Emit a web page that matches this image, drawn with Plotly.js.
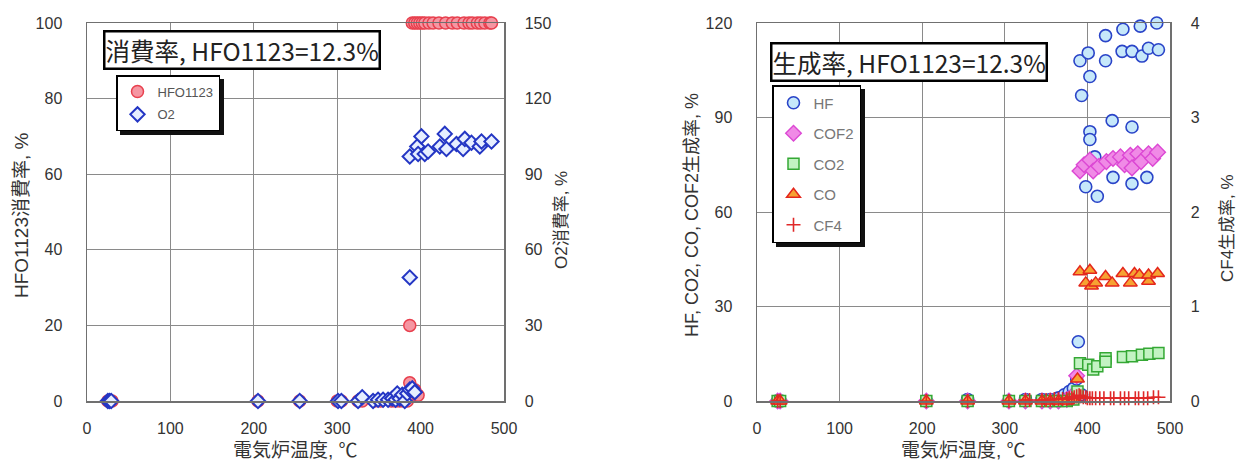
<!DOCTYPE html>
<html>
<head>
<meta charset="utf-8">
<script src="https://cdn.plot.ly/plotly-3.0.1.min.js"></script>
<style>html,body{margin:0;padding:0;background:#fff;}#chart{width:1240px;height:464px;}</style>
</head>
<body>
<div id="chart"></div>
<script>
// ---- Left chart: consumption rate ----
var hfoX = [25, 28, 30, 205, 255, 300, 305, 325, 330, 345, 352, 365, 370, 375, 380, 384, 387, 387, 393, 397,
            390, 393, 396, 399, 402, 405, 410, 415, 422, 430, 438, 444, 452, 458, 462, 468, 472, 477, 483, 485];
var hfoY = [0, 0, 0, 0, 0, 0, 0, 0, 0, 0, 0, 0, 0, 0, 0, 0, 4.8, 20, 3, 1.5,
            100, 100, 100, 100, 100, 100, 100, 100, 100, 100, 100, 100, 100, 100, 100, 100, 100, 100, 100, 100];
var o2X = [25, 27, 29, 205, 255, 301, 305, 325, 330, 343, 349, 355, 361, 366, 370, 372, 375, 378, 381, 384, 387, 390, 393,
           387, 387, 396, 401, 397, 405, 409, 423, 429, 431, 443, 451, 453, 461, 471, 473, 485];
var o2Y = [0, 0, 0, 0, 0, 0, 0, 0, 1.5, 0, 0.5, 0.5, 0.5, 1, 0.5, 3, 1, 2.5, 0, 3, 4.5, 5, 3.5,
           49, 97, 101, 105, 98, 98, 99, 101, 106, 100, 102, 100, 104, 102.5, 101, 103, 103];

// ---- Right chart: formation rate ----
var hfX = [25, 28, 205, 255, 305, 325, 345, 355, 365, 372, 378, 383, 387, 389, 393,
           391, 401, 403, 393, 422, 422, 443, 442, 454, 464, 466, 474, 484, 486,
           403, 403, 409, 430, 454, 398, 412, 431, 454, 472];
var hfY = [0, 0, 0, 0.5, 0, 0.5, 0.5, 0.5, 1, 2, 3, 4, 7, 18.8, 2,
           108, 110.5, 103, 97, 116, 108, 118, 111, 111, 119, 109.5, 112, 120, 111.5,
           85.5, 83, 77.5, 89, 87, 68, 65, 71, 69, 71];
var cof2X = [25, 28, 205, 255, 305, 325, 345, 355, 365, 375, 383, 387,
             391, 396, 403, 407, 414, 423, 431, 440, 445, 452, 454, 461, 465, 474, 479, 485];
var cof2Y = [0, 0, 0, 0, 0, 0, 0, 0, 0, 0.5, 2, 8,
             73, 75, 76.5, 73, 74.5, 76, 77, 77.5, 75, 78, 74, 78.5, 76, 78.5, 77, 79];
var co2X = [25, 28, 205, 255, 305, 325, 345, 355, 365, 375, 383, 388,
            391, 401, 407, 412, 422, 422, 443, 454, 466, 475, 486];
var co2Y = [0, 0, 0, 0, 0, 0, 0, 0, 0, 0, 0.5, 3,
            12, 11.5, 10, 11, 13.6, 12.5, 14, 14.2, 14.7, 15, 15.2];
var coX = [25, 28, 205, 255, 305, 325, 345, 355, 365, 375, 383, 388,
           391, 403, 398, 405, 410, 422, 430, 443, 452, 457, 463, 474, 474, 485];
var coY = [0, 0, 0, 0, 0, 0, 0, 0, 0, 0, 0.5, 7,
           41, 41.5, 37.5, 36.5, 37.5, 39.5, 37.5, 40.5, 37.5, 40.5, 40, 38, 40, 40.5];
var cf4X = [25, 28, 205, 255, 305, 325, 330, 345, 350, 355, 360, 365, 370, 375, 378, 381, 384, 387, 390, 392, 395, 398,
            400, 403, 406, 410, 415, 420, 428, 432, 440, 445, 450, 458, 462, 468, 473, 480, 486];
var cf4Y = [0, 0, 0, 0, 0, 0.01, 0.01, 0.01, 0.01, 0.01, 0.02, 0.02, 0.02, 0.02, 0.03, 0.03, 0.04, 0.05, 0.06, 0.05, 0.04, 0.04,
            0.03, 0.03, 0.03, 0.03, 0.03, 0.03, 0.03, 0.03, 0.03, 0.03, 0.03, 0.03, 0.03, 0.03, 0.03, 0.04, 0.04];

var leftYTicks = [0, 20, 40, 60, 80, 100];
var leftY2Ticks = [0, 30, 60, 90, 120, 150];
var rightYTicks = [0, 30, 60, 90, 120];
var rightY2Ticks = [0, 1, 2, 3, 4];
var xTicks = [0, 100, 200, 300, 400, 500];

var W = 1240, H = 464;
var FONT = 'Liberation Sans, Arial, Noto Sans CJK JP, sans-serif';
var CJK = 'Noto Sans CJK JP, sans-serif';

function sc(x, y, name, xa, ya, marker, legend, group) {
  return {type: 'scatter', mode: 'markers', x: x, y: y, name: name, xaxis: xa, yaxis: ya,
          marker: marker, legend: legend, legendgroup: group, cliponaxis: false, showlegend: true};
}

var data = [
  sc(hfoX, hfoY, 'HFO1123', 'x', 'y', {symbol: 'circle', size: 12, color: '#f596a2', line: {color: '#e8404e', width: 1.5}}, 'legend', 'a'),
  sc(o2X, o2Y, 'O2', 'x', 'y2', {symbol: 'diamond', size: 11, color: '#e6eeff', line: {color: '#2436c4', width: 2}}, 'legend', 'b'),
  sc(hfX, hfY, 'HF', 'x2', 'y3', {symbol: 'circle', size: 12, color: '#c6e8fa', line: {color: '#2a44c8', width: 1.6}}, 'legend2', 'c'),
  sc(cof2X, cof2Y, 'COF2', 'x2', 'y3', {symbol: 'diamond', size: 12, color: '#f08ae6', line: {color: '#dc48d4', width: 1.4}}, 'legend2', 'd'),
  sc(co2X, co2Y, 'CO2', 'x2', 'y3', {symbol: 'square', size: 11, color: '#c2f3c2', line: {color: '#34a834', width: 1.5}}, 'legend2', 'e'),
  sc(coX, coY, 'CO', 'x2', 'y3', {symbol: 'triangle-up', size: 12, color: '#f6a232', line: {color: '#e4261c', width: 1.5}}, 'legend2', 'f'),
  sc(cf4X, cf4Y, 'CF4', 'x2', 'y4', {symbol: 'cross-thin', size: 10, color: '#e02828', line: {color: '#e02828', width: 1.6}}, 'legend2', 'g')
];

var yDom = [(H - 401) / H, (H - 23) / H];
var axBase = {
  showgrid: true, gridcolor: '#8a8a8a', gridwidth: 1, zeroline: false,
  showline: true, linecolor: '#707070', linewidth: 1.5, mirror: true,
  ticks: '', tickfont: {family: FONT, size: 16, color: '#333'}, fixedrange: true
};
function ax(extra) { return Object.assign({}, axBase, extra); }

var LEG1 = {left: 116, top: 75}, LEG2 = {left: 772, top: 85};

var layout = {
  width: W, height: H,
  margin: {l: 0, r: 0, t: 0, b: 0, autoexpand: false},
  paper_bgcolor: '#fff', plot_bgcolor: '#fff',
  showlegend: true,
  xaxis: ax({domain: [87 / W, 504 / W], range: [0, 500], tickvals: xTicks, anchor: 'y', ticklabelstandoff: 12}),
  yaxis: ax({domain: yDom, range: [0, 100], tickvals: leftYTicks, anchor: 'x', ticklabelstandoff: 20}),
  yaxis2: ax({domain: yDom, range: [0, 150], tickvals: leftY2Ticks, overlaying: 'y', side: 'right', anchor: 'x', showgrid: false, ticklabelstandoff: 16}),
  xaxis2: ax({domain: [757 / W, 1170 / W], range: [0, 500], tickvals: xTicks, anchor: 'y3', ticklabelstandoff: 12}),
  yaxis3: ax({domain: yDom, range: [0, 120], tickvals: rightYTicks, anchor: 'x2', ticklabelstandoff: 20}),
  yaxis4: ax({domain: yDom, range: [0, 4], tickvals: rightY2Ticks, overlaying: 'y3', side: 'right', anchor: 'x2', showgrid: false, ticklabelstandoff: 16}),
  legend: {x: LEG1.left / W, y: (H - LEG1.top) / H, xanchor: 'left', yanchor: 'top', bgcolor: '#fff', bordercolor: '#000', borderwidth: 1.5,
           font: {family: 'Liberation Sans Narrow, Liberation Sans, sans-serif', size: 13, color: '#555'}, tracegroupgap: 3, itemwidth: 30},
  legend2: {x: LEG2.left / W, y: (H - LEG2.top) / H, xanchor: 'left', yanchor: 'top', bgcolor: '#fff', bordercolor: '#000', borderwidth: 1.5,
           font: {family: FONT, size: 15, color: '#777'}, tracegroupgap: 8, itemwidth: 30},
  annotations: [
    {text: '消費率, HFO1123=12.3%', xref: 'paper', yref: 'paper', x: 242 / W, y: (H - 50) / H, xanchor: 'center', yanchor: 'middle',
     showarrow: false, font: {family: CJK, size: 24.5, color: '#222'}, bgcolor: '#fff', bordercolor: '#000', borderwidth: 2.5, borderpad: 0},
    {text: '生成率, HFO1123=12.3%', xref: 'paper', yref: 'paper', x: 909 / W, y: (H - 61.5) / H, xanchor: 'center', yanchor: 'middle',
     showarrow: false, font: {family: CJK, size: 24.5, color: '#222'}, bgcolor: '#fff', bordercolor: '#000', borderwidth: 2.5, borderpad: 0},
    {text: '電気炉温度, ℃', xref: 'paper', yref: 'paper', x: 295.5 / W, y: (H - 450) / H, xanchor: 'center', yanchor: 'middle',
     showarrow: false, font: {family: FONT, size: 19, color: '#333'}},
    {text: '電気炉温度, ℃', xref: 'paper', yref: 'paper', x: 963.5 / W, y: (H - 450) / H, xanchor: 'center', yanchor: 'middle',
     showarrow: false, font: {family: FONT, size: 19, color: '#333'}},
    {text: 'HFO1123消費率, %', xref: 'paper', yref: 'paper', x: 21 / W, y: (H - 215) / H, xanchor: 'center', yanchor: 'middle', textangle: -90,
     showarrow: false, font: {family: FONT, size: 19, color: '#333'}},
    {text: 'O2消費率, %', xref: 'paper', yref: 'paper', x: 561 / W, y: (H - 220) / H, xanchor: 'center', yanchor: 'middle', textangle: -90,
     showarrow: false, font: {family: FONT, size: 17, color: '#333'}},
    {text: 'HF, CO2, CO, COF2生成率, %', xref: 'paper', yref: 'paper', x: 692 / W, y: (H - 215) / H, xanchor: 'center', yanchor: 'middle', textangle: -90,
     showarrow: false, font: {family: FONT, size: 18, color: '#333'}},
    {text: 'CF4生成率, %', xref: 'paper', yref: 'paper', x: 1227 / W, y: (H - 228) / H, xanchor: 'center', yanchor: 'middle', textangle: -90,
     showarrow: false, font: {family: FONT, size: 17, color: '#333'}}
  ]
};

var gd = document.getElementById('chart');
Plotly.newPlot(gd, data, layout, {staticPlot: true, displayModeBar: false}).then(function () {
  var fl = gd._fullLayout;
  var shapes = [];
  [['legend', LEG1, 104, 54], ['legend2', LEG2, 86, 156]].forEach(function (d) {
    var lo = fl[d[0]] || {};
    var w = lo._width || d[2], h = lo._height || d[3];
    var x0 = d[1].left + 4, y0 = d[1].top + 4;
    shapes.push({type: 'rect', xref: 'paper', yref: 'paper', x0: x0 / W, x1: (x0 + w) / W, y0: 1 - y0 / H, y1: 1 - (y0 + h) / H,
                 fillcolor: '#111', line: {width: 0}, layer: 'above'});
  });
  return Plotly.relayout(gd, {shapes: shapes});
});
</script>
</body>
</html>
